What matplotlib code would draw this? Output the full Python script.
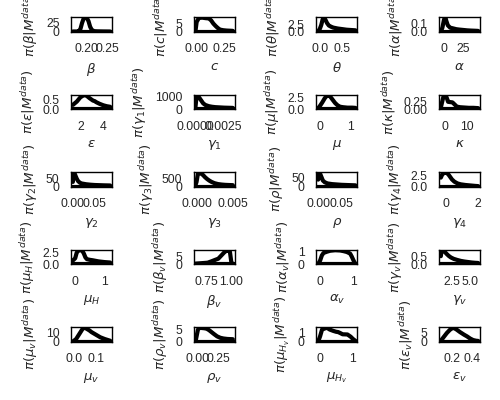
import matplotlib
matplotlib.use("Agg")
import matplotlib.pyplot as plt
import seaborn as sns

sns.set_theme(style="white", context="paper")
plt.rcParams['font.family'] = ['Liberation Sans', 'DejaVu Sans']

labels = [r'\beta', 'c', r'\theta', r'\alpha',
          r'\varepsilon', r'\gamma_1', r'\mu', r'\kappa',
          r'\gamma_2', r'\gamma_3', r'\rho', r'\gamma_4',
          r'\mu_H', r'\beta_v', r'\alpha_v', r'\gamma_v',
          r'\mu_v', r'\rho_v', r'\mu_{H_v}', r'\varepsilon_v']

beta_x = [0.165, 0.175, 0.180, 0.184, 0.188, 0.192, 0.196, 0.200, 0.204, 0.208, 0.212, 0.218, 0.226, 0.240, 0.258]
beta_y = [0, 0, 1, 8, 25, 38, 40, 39, 30, 14, 5, 1, 0.5, 0.2, 0]
c_x = [-0.01, 0.00, 0.02, 0.05, 0.08, 0.11, 0.13, 0.15, 0.17, 0.19, 0.21, 0.24, 0.27, 0.30, 0.325]
c_y = [0.5, 6, 8.5, 8.7, 8.4, 8.2, 7, 5, 3.5, 2.2, 1.2, 0.8, 0.6, 0.5, 0.4]
theta_x = [-0.04, 0.0, 0.03, 0.06, 0.09, 0.12, 0.16, 0.20, 0.25, 0.30, 0.40, 0.50, 0.60, 0.70, 0.80]
theta_y = [0.0, 1.0, 2.2, 4.0, 4.6, 4.0, 2.8, 2.0, 1.6, 1.3, 1.0, 0.8, 0.6, 0.5, 0.4]
alpha_x = [-4, -2, 0, 1, 2, 3, 5, 8, 12, 16, 20, 25, 30, 35, 40, 44]
alpha_y = [0.0, 0.05, 0.15, 0.18, 0.18, 0.14, 0.08, 0.05, 0.04, 0.03, 0.025, 0.02, 0.015, 0.012, 0.01, 0.008]

eps_x = [1.35, 1.7, 2.0, 2.2, 2.42, 2.6, 2.8, 3.1, 3.25, 3.4, 3.67, 4.0, 4.3, 4.6]
eps_y = [0.22, 0.40, 0.62, 0.70, 0.74, 0.68, 0.58, 0.45, 0.42, 0.36, 0.28, 0.20, 0.15, 0.12]
g1_x = [0.0, 0.0001, 0.0002, 0.0003, 0.0005, 0.0007, 0.0009, 0.0012, 0.0015, 0.0018, 0.0022, 0.0026, 0.0030, 0.0034]
g1_y = [200, 1050, 1100, 950, 700, 450, 320, 230, 180, 150, 130, 110, 100, 90]
mu_x = [-0.05, 0.0, 0.08, 0.16, 0.22, 0.28, 0.34, 0.42, 0.50, 0.58, 0.66, 0.75, 0.9, 1.05, 1.16]
mu_y = [0.2, 0.6, 1.4, 2.3, 2.8, 3.0, 2.7, 2.0, 1.3, 0.8, 0.5, 0.4, 0.3, 0.3, 0.25]
kappa_x = [-1.8, -1.0, -0.5, 0.0, 0.5, 1.0, 1.5, 2.5, 3.5, 4.5, 5.5, 7, 9, 11, 13, 15.2]
kappa_y = [0.05, 0.3, 0.44, 0.46, 0.44, 0.35, 0.24, 0.23, 0.22, 0.15, 0.08, 0.06, 0.05, 0.04, 0.04, 0.03]

g2_x = [0.0, 0.002, 0.004, 0.006, 0.009, 0.012, 0.016, 0.02, 0.03, 0.04, 0.05, 0.06, 0.07, 0.085]
g2_y = [30, 90, 85, 70, 50, 35, 25, 20, 15, 12, 10, 9, 8, 7]
g3_x = [-0.00014, 0.0, 0.0002, 0.0004, 0.0006, 0.0009, 0.0012, 0.0015, 0.0018, 0.0021, 0.0025, 0.0030, 0.0035, 0.0040, 0.0045, 0.00506]
g3_y = [100, 300, 850, 900, 850, 750, 600, 480, 380, 300, 220, 160, 130, 110, 100, 90]
rho_x = [0.0, 0.002, 0.004, 0.007, 0.01, 0.014, 0.02, 0.03, 0.04, 0.05, 0.06, 0.07, 0.08]
rho_y = [40, 80, 75, 55, 35, 25, 18, 14, 12, 10, 9, 8, 7]
g4_x = [-0.35, -0.25, -0.15, -0.05, 0.05, 0.15, 0.25, 0.35, 0.5, 0.7, 0.9, 1.2, 1.5, 1.8, 2.0]
g4_y = [2.0, 2.8, 3.0, 3.1, 3.0, 2.6, 2.1, 1.6, 1.1, 0.7, 0.5, 0.35, 0.25, 0.15, 0.1]

muH_x = [-0.08, 0.0, 0.05, 0.1, 0.15, 0.2, 0.25, 0.3, 0.35, 0.4, 0.5, 0.6, 0.8, 1.0, 1.2]
muH_y = [0.8, 1.3, 2.5, 3.0, 3.1, 3.1, 2.9, 2.3, 1.5, 1.1, 0.95, 0.85, 0.6, 0.45, 0.35]
bv_x = [0.635, 0.68, 0.72, 0.76, 0.80, 0.84, 0.87, 0.90, 0.93, 0.955, 0.975, 0.99, 1.005, 1.02]
bv_y = [0.3, 0.5, 0.7, 0.9, 1.8, 2.8, 3.5, 5.5, 7.5, 8.8, 9.0, 8.0, 1.0, 0.0]
alphav_x = [-0.06, 0.0, 0.05, 0.1, 0.2, 0.3, 0.45, 0.6, 0.7, 0.8, 0.9, 0.95, 1.0, 1.06]
alphav_y = [0.0, 0.3, 0.7, 0.9, 1.0, 1.08, 1.12, 1.1, 1.05, 0.98, 0.85, 0.6, 0.3, 0.0]
gv_x = [0.9, 1.0, 1.2, 1.4, 1.7, 2.0, 2.3, 2.7, 3.2, 3.7, 4.2, 4.7, 5.2, 5.7, 6.1]
gv_y = [0.5, 0.85, 0.88, 0.8, 0.65, 0.52, 0.42, 0.33, 0.26, 0.2, 0.16, 0.13, 0.1, 0.08, 0.07]

muv_x = [-0.005, 0.01, 0.02, 0.03, 0.04, 0.05, 0.06, 0.07, 0.08, 0.09, 0.1, 0.12, 0.14, 0.165]
muv_y = [0.0, 3, 7, 11, 15, 16, 14.5, 13, 11, 9.5, 8, 5, 3, 1]
rhov_x = [-0.03, 0.0, 0.02, 0.05, 0.08, 0.11, 0.14, 0.17, 0.20, 0.24, 0.28, 0.32, 0.37, 0.437]
rhov_y = [0.0, 5.0, 5.8, 5.7, 5.6, 5.4, 4.8, 4.0, 3.2, 2.2, 1.6, 1.3, 1.1, 1.0]
muHv_x = [-0.06, 0.0, 0.06, 0.13, 0.21, 0.3, 0.41, 0.5, 0.56, 0.63, 0.7, 0.85, 0.95, 1.02, 1.1]
muHv_y = [0.0, 0.6, 1.35, 1.45, 1.55, 1.35, 1.2, 1.1, 1.07, 0.95, 0.82, 0.8, 0.55, 0.3, 0.08]
epsv_x = [0.09, 0.11, 0.13, 0.15, 0.18, 0.21, 0.24, 0.28, 0.32, 0.35, 0.38, 0.41, 0.44, 0.46]
epsv_y = [0.5, 2, 3.5, 5, 6.8, 8, 7.2, 5.5, 4, 3, 1.8, 0.9, 0.5, 0.4]

series = [(beta_x, beta_y), (c_x, c_y), (theta_x, theta_y), (alpha_x, alpha_y),
          (eps_x, eps_y), (g1_x, g1_y), (mu_x, mu_y), (kappa_x, kappa_y),
          (g2_x, g2_y), (g3_x, g3_y), (rho_x, rho_y), (g4_x, g4_y),
          (muH_x, muH_y), (bv_x, bv_y), (alphav_x, alphav_y), (gv_x, gv_y),
          (muv_x, muv_y), (rhov_x, rhov_y), (muHv_x, muHv_y), (epsv_x, epsv_y)]

fig, axes = plt.subplots(5, 4, figsize=(5, 4), dpi=100)
for ax, lab, (xs, ys) in zip(axes.flat, labels, series):
    ax.plot(xs, ys, color='black', lw=3)
    ax.set_ylim(bottom=0)
    ax.axhline(0, color='black', lw=3)
    ax.set_xlabel('$' + lab + '$')
    ax.set_ylabel(r'$\pi(' + lab + r'|M^{data})$')
    for s in ax.spines.values():
        s.set_edgecolor('black')
fig.subplots_adjust(left=0.142, right=0.96, top=0.9575, bottom=0.146,
                    wspace=1.99, hspace=4.34)
fig.savefig('out.png', dpi=100)
